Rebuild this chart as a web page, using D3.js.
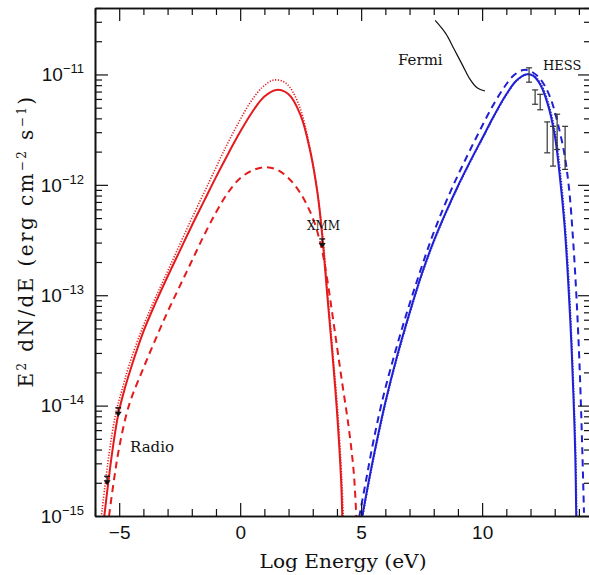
<!DOCTYPE html>
<html>
<head>
<meta charset="utf-8">
<script src="https://cdn.jsdelivr.net/npm/d3@7"></script>
<style>
body { margin: 0; background: #fff; }
</style>
</head>
<body>
<div id="plot"></div>
<script>

// x: log10 energy (eV), y: log10 of E^2 dN/dE

// synchrotron (red)
var syncSolidX = [-5.62, -5.3, -5.04, -4.75, -4.5, -4.0, -3.5, -3.0, -2.5, -2.0, -1.5, -1.0, -0.5, 0.0, 0.5, 1.0, 1.5, 2.0, 2.5, 2.9, 3.2, 3.4, 3.6, 3.8, 4.0, 4.17, 4.22];
var syncSolidY = [-15.01, -14.44, -14.08, -13.83, -13.65, -13.33, -13.07, -12.83, -12.60, -12.37, -12.15, -11.93, -11.72, -11.52, -11.34, -11.20, -11.14, -11.18, -11.37, -11.70, -12.08, -12.48, -13.00, -13.50, -14.05, -14.67, -15.01];

var syncDotX = [-5.74, -5.42, -5.15, -4.85, -4.6, -4.1, -3.6, -3.1, -2.6, -2.1, -1.6, -1.1, -0.6, -0.1, 0.4, 0.9, 1.4, 1.9, 2.4, 2.85, 3.2, 3.42, 3.62, 3.82, 4.03, 4.2, 4.26];
var syncDotY = [-15.01, -14.44, -14.08, -13.83, -13.64, -13.33, -13.07, -12.83, -12.59, -12.35, -12.12, -11.89, -11.66, -11.45, -11.26, -11.12, -11.05, -11.08, -11.26, -11.63, -12.08, -12.48, -13.00, -13.50, -14.05, -14.67, -15.01];

var syncDashX = [-5.42, -5.2, -5.0, -4.6, -4.0, -3.5, -3.0, -2.5, -2.0, -1.5, -1.0, -0.5, 0.0, 0.5, 1.0, 1.5, 2.0, 2.5, 3.0, 3.35, 3.6, 3.9, 4.2, 4.5, 4.7, 4.8];
var syncDashY = [-15.0, -14.65, -14.38, -14.00, -13.66, -13.40, -13.15, -12.92, -12.69, -12.46, -12.25, -12.07, -11.94, -11.87, -11.84, -11.86, -11.94, -12.08, -12.30, -12.56, -12.86, -13.31, -13.77, -14.22, -14.62, -15.01];

// inverse compton (blue)
var icSolidX = [5.04, 5.3, 5.6, 6.0, 6.5, 7.0, 7.5, 8.0, 8.5, 9.0, 9.5, 10.0, 10.5, 11.0, 11.4, 11.8, 12.1, 12.4, 12.7, 13.0, 13.2, 13.4, 13.55, 13.68, 13.78, 13.85, 13.89];
var icSolidY = [-15.01, -14.70, -14.37, -13.97, -13.54, -13.16, -12.81, -12.51, -12.25, -12.01, -11.79, -11.58, -11.37, -11.18, -11.06, -11.00, -11.01, -11.09, -11.26, -11.55, -11.90, -12.35, -12.85, -13.40, -13.95, -14.45, -15.01];

var icDotX = [5.06, 5.32, 5.62, 6.02, 6.52, 7.02, 7.52, 8.02, 8.52, 9.02, 9.52, 10.02, 10.52, 11.02, 11.42, 11.84, 12.14, 12.44, 12.74, 13.04, 13.24, 13.43, 13.58, 13.70, 13.80, 13.87, 13.91];
var icDotY = [-15.01, -14.70, -14.37, -13.97, -13.54, -13.16, -12.81, -12.51, -12.25, -12.01, -11.79, -11.58, -11.37, -11.18, -11.06, -11.00, -11.01, -11.09, -11.26, -11.55, -11.90, -12.35, -12.85, -13.40, -13.95, -14.45, -15.01];

var icDashX = [4.92, 5.2, 5.5, 5.9, 6.4, 6.9, 7.4, 7.9, 8.4, 8.9, 9.4, 9.9, 10.4, 10.9, 11.3, 11.7, 12.0, 12.4, 12.8, 13.1, 13.4, 13.6, 13.76, 13.9, 14.02, 14.12, 14.21];
var icDashY = [-15.01, -14.68, -14.33, -13.93, -13.52, -13.15, -12.81, -12.49, -12.21, -11.96, -11.73, -11.51, -11.30, -11.12, -11.01, -10.96, -10.97, -11.04, -11.20, -11.42, -11.72, -12.05, -12.50, -13.02, -13.60, -14.25, -14.97];

// Fermi curve
var fermiX = [8.06, 8.50, 8.84, 9.20, 9.46, 9.79, 10.12];
var fermiY = [-10.51, -10.63, -10.77, -10.92, -11.03, -11.12, -11.15];

// HESS points (error bars)
var hessX = [11.94, 12.19, 12.40, 12.69, 12.93, 13.10, 13.43];
var hessLo = [-11.07, -11.27, -11.32, -11.71, -11.83, -11.68, -11.86];
var hessHi = [-10.94, -11.14, -11.18, -11.43, -11.47, -11.36, -11.47];

// upper limits (radio, XMM)
var limX = [-5.04, -5.50, 3.39];
var limY = [-14.02, -14.64, -12.49];

var xMajor = [-5, 0, 5, 10];
var yDecades = [-15, -14, -13, -12, -11];

var red = '#e41a1c', blue = '#1f1fd6';

var width = 589, height = 575;
var mLeft = 95, mRight = 591, mTop = 8, mBottom = 516;

var x = d3.scaleLinear().domain([-6, 14.5]).range([mLeft, mRight]);
var y = d3.scaleLog().domain([1e-15, 4e-11]).range([mBottom, mTop]);

function pow(v) { return Math.pow(10, v); }
function zip(a, b) { return a.map(function(v, i) { return [v, b[i]]; }); }

var svg = d3.select('#plot').append('svg')
	.attr('width', width)
	.attr('height', height);

svg.append('clipPath').attr('id', 'clip')
	.append('rect')
	.attr('x', mLeft).attr('y', mTop)
	.attr('width', mRight - mLeft).attr('height', mBottom - mTop);

var line = d3.line()
	.x(function(d) { return x(d[0]); })
	.y(function(d) { return y(pow(d[1])); })
	.curve(d3.curveCatmullRom.alpha(0.5));

var curves = svg.append('g').attr('clip-path', 'url(#clip)');

function curve(xs, ys, col, w, dash) {
	curves.append('path')
		.attr('d', line(zip(xs, ys)))
		.attr('fill', 'none')
		.attr('stroke', col)
		.attr('stroke-width', w)
		.attr('stroke-dasharray', dash);
}

curve(syncDotX, syncDotY, red, 1.6, '1.2,1.6');
curve(syncSolidX, syncSolidY, red, 2, null);
curve(syncDashX, syncDashY, red, 2, '7,5');

curve(icDotX, icDotY, blue, 1.6, '1.2,1.6');
curve(icSolidX, icSolidY, blue, 2, null);
curve(icDashX, icDashY, blue, 2, '7,5');

curve(fermiX, fermiY, '#111', 1.2, null);

// HESS error bars
var hess = svg.append('g').attr('stroke', '#333').attr('stroke-width', 1.2);
hessX.forEach(function(v, i) {
	var px = x(v), y0 = y(pow(hessLo[i])), y1 = y(pow(hessHi[i]));
	hess.append('line').attr('x1', px).attr('x2', px).attr('y1', y0).attr('y2', y1);
	hess.append('line').attr('x1', px - 3).attr('x2', px + 3).attr('y1', y0).attr('y2', y0);
	hess.append('line').attr('x1', px - 3).attr('x2', px + 3).attr('y1', y1).attr('y2', y1);
});

// upper limit arrows
limX.forEach(function(v, i) {
	var px = x(v), py = y(pow(limY[i]));
	var g = svg.append('g');
	g.append('line').attr('x1', px - 3).attr('x2', px + 3).attr('y1', py).attr('y2', py)
		.attr('stroke', '#111').attr('stroke-width', 1.3);
	g.append('line').attr('x1', px).attr('x2', px).attr('y1', py).attr('y2', py + 6)
		.attr('stroke', '#111').attr('stroke-width', 1.3);
	g.append('path')
		.attr('d', 'M' + (px - 3.5) + ',' + (py + 4) + 'L' + (px + 3.5) + ',' + (py + 4) + 'L' + px + ',' + (py + 9) + 'Z')
		.attr('fill', '#111');
});

// axes / frame
var minorX = d3.range(-6, 15).filter(function(v) { return v % 5 != 0; });
var minorY = [];
yDecades.forEach(function(d) {
	for (var k = 2; k <= 9; k++) {
		var v = k * pow(d);
		if (v <= 4e-11) minorY.push(v);
	}
});
var majorY = yDecades.map(pow);

function styleAxis(g) {
	g.selectAll('path').attr('stroke', '#111').attr('stroke-width', 1.6);
	g.selectAll('line').attr('stroke', '#111').attr('stroke-width', 1.2);
}

var xb = svg.append('g').attr('transform', 'translate(0,' + mBottom + ')')
	.call(d3.axisBottom(x).tickValues(xMajor).tickSize(-13).tickSizeOuter(0).tickPadding(10)
		.tickFormat(function(d) { return d < 0 ? '\u2212' + Math.abs(d) : d; }));
xb.selectAll('text').attr('font-family', 'Liberation Sans, Arial, sans-serif').attr('font-size', 19).attr('fill', '#111');
styleAxis(xb);
styleAxis(svg.append('g').attr('transform', 'translate(0,' + mBottom + ')')
	.call(d3.axisBottom(x).tickValues(minorX).tickSize(-7).tickSizeOuter(0).tickFormat('')));

styleAxis(svg.append('g').attr('transform', 'translate(0,' + mTop + ')')
	.call(d3.axisTop(x).tickValues(xMajor).tickSize(-13).tickSizeOuter(0).tickFormat('')));
styleAxis(svg.append('g').attr('transform', 'translate(0,' + mTop + ')')
	.call(d3.axisTop(x).tickValues(minorX).tickSize(-7).tickSizeOuter(0).tickFormat('')));

styleAxis(svg.append('g').attr('transform', 'translate(' + mLeft + ',0)')
	.call(d3.axisLeft(y).tickValues(majorY).tickSize(-13).tickSizeOuter(0).tickFormat('')));
styleAxis(svg.append('g').attr('transform', 'translate(' + mLeft + ',0)')
	.call(d3.axisLeft(y).tickValues(minorY).tickSize(-7).tickSizeOuter(0).tickFormat('')));

styleAxis(svg.append('g').attr('transform', 'translate(' + mRight + ',0)')
	.call(d3.axisRight(y).tickValues(majorY).tickSize(-13).tickSizeOuter(0).tickFormat('')));
styleAxis(svg.append('g').attr('transform', 'translate(' + mRight + ',0)')
	.call(d3.axisRight(y).tickValues(minorY).tickSize(-7).tickSizeOuter(0).tickFormat('')));

// y tick labels 10^n
svg.append('g').selectAll('text').data(yDecades).enter().append('text')
	.attr('x', 84)
	.attr('y', function(d) { return y(pow(d)); })
	.attr('dy', '0.36em')
	.attr('text-anchor', 'end')
	.attr('font-family', 'Liberation Sans, Arial, sans-serif')
	.attr('font-size', 19)
	.attr('fill', '#111')
	.each(function(d) {
		var t = d3.select(this);
		t.append('tspan').text('10');
		t.append('tspan').attr('dy', -8).attr('font-size', 13).text('\u2212' + Math.abs(d));
	});

// axis titles
svg.append('text')
	.attr('x', 343).attr('y', 568)
	.attr('text-anchor', 'middle')
	.attr('font-family', 'DejaVu Serif, serif')
	.attr('font-size', 19)
	.attr('textLength', 167)
	.attr('lengthAdjust', 'spacingAndGlyphs')
	.attr('fill', '#111')
	.text('Log Energy (eV)');

var yt = svg.append('text')
	.attr('transform', 'translate(33,241) rotate(-90)')
	.attr('text-anchor', 'middle')
	.attr('font-family', 'DejaVu Serif, serif')
	.attr('font-size', 20)
	.attr('letter-spacing', 2.4)
	.attr('fill', '#111');
yt.append('tspan').text('E');
yt.append('tspan').attr('dy', -7).attr('font-size', 12).text('2');
yt.append('tspan').attr('dy', 7).text(' dN/dE (erg cm');
yt.append('tspan').attr('dy', -7).attr('font-size', 12).text('\u22122');
yt.append('tspan').attr('dy', 7).text(' s');
yt.append('tspan').attr('dy', -7).attr('font-size', 12).text('\u22121');
yt.append('tspan').attr('dy', 7).text(')');

// annotations
function note(txt, px, py, size) {
	svg.append('text').attr('x', px).attr('y', py)
		.attr('font-family', 'DejaVu Serif, serif')
		.attr('font-size', size)
		.attr('fill', '#111')
		.text(txt);
}
note('Radio', 130, 452, 15);
note('XMM', 307, 230, 12);
note('Fermi', 398, 65, 15);
note('HESS', 543, 70, 13);

</script>
</body>
</html>
